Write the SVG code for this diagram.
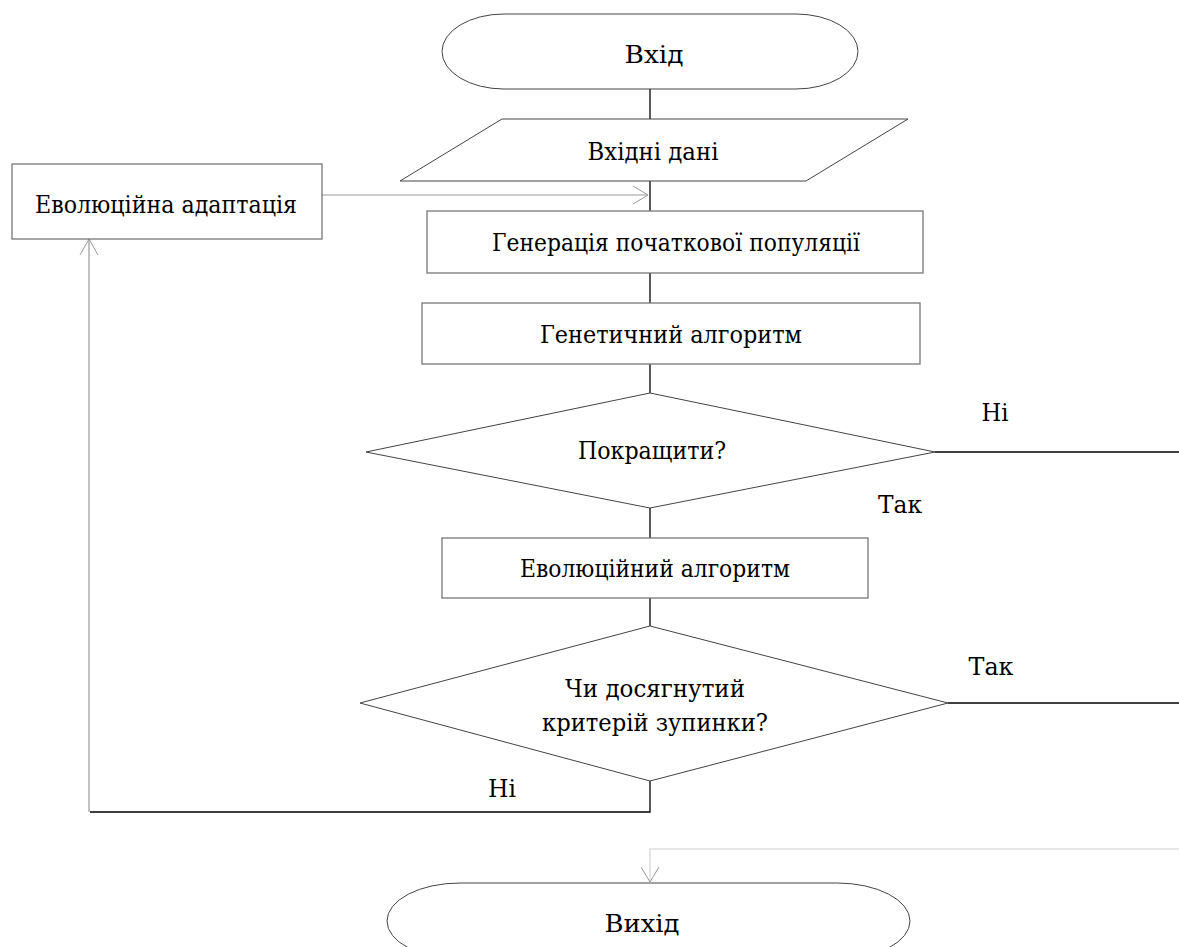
<svg xmlns="http://www.w3.org/2000/svg" width="1179" height="947" viewBox="0 0 1179 947">
<style>
text{font-family:"DejaVu Serif","Liberation Serif",serif;font-size:24.5px;fill:#000;text-anchor:middle}
.box{fill:#fff;stroke:#777;stroke-width:1.3}
.dia{fill:#fff;stroke:#444;stroke-width:1}
.term{fill:#fff;stroke:#444;stroke-width:1}
.c{fill:none;stroke:#000;stroke-width:1.3}
.g{fill:none;stroke:#999;stroke-width:1.2}
.lg{fill:none;stroke:#ddd;stroke-width:1.5}
.ah{fill:none;stroke:#999;stroke-width:1}
</style>
<rect width="1179" height="947" fill="#fff"/>
<g id="connectors">
<line class="c" x1="650" y1="89" x2="650" y2="119"/>
<line class="c" x1="650" y1="181" x2="650" y2="211"/>
<line class="g" x1="322" y1="195" x2="648" y2="195"/>
<polyline class="ah" points="633,186 648,195 633,204"/>
<line class="c" x1="650" y1="273" x2="650" y2="303"/>
<line class="c" x1="650" y1="364" x2="650" y2="393"/>
<line class="c" x1="935" y1="452" x2="1179" y2="452"/>
<line class="c" x1="650" y1="508" x2="650" y2="538"/>
<line class="c" x1="650" y1="598" x2="650" y2="626"/>
<line class="c" x1="948" y1="703" x2="1179" y2="703"/>
<polyline class="c" points="650,781 650,812 90,812"/>
<line class="g" x1="89" y1="812" x2="89" y2="239"/>
<polyline class="ah" points="80,255 89,239 98,255"/>
<polyline class="lg" points="1179,849 650,849 650,882"/>
<polyline class="ah" points="641,867 650,882 659,867"/>
</g>
<g id="start">
<rect class="term" x="442" y="14" width="416" height="75" rx="62" ry="37.5"/>
<text x="654" y="63" textLength="59" lengthAdjust="spacingAndGlyphs">Вхід</text>
</g>
<g id="input">
<polygon class="dia" points="502,119 908,119 806,181 400,181"/>
<text x="653" y="160" textLength="131" lengthAdjust="spacingAndGlyphs">Вхідні дані</text>
</g>
<g id="adapt">
<rect class="box" x="12" y="164" width="310" height="75"/>
<text x="166" y="213" textLength="262" lengthAdjust="spacingAndGlyphs">Еволюційна адаптація</text>
</g>
<g id="gen-pop">
<rect class="box" x="427" y="211" width="496" height="62"/>
<text x="676" y="251" textLength="368" lengthAdjust="spacingAndGlyphs">Генерація початкової популяції</text>
</g>
<g id="ga">
<rect class="box" x="422" y="303" width="498" height="61"/>
<text x="671" y="343" textLength="262" lengthAdjust="spacingAndGlyphs">Генетичний алгоритм</text>
</g>
<g id="improve">
<polygon class="dia" points="650,393 935,452 650,508 366,452"/>
<text x="652" y="459" textLength="148" lengthAdjust="spacingAndGlyphs">Покращити?</text>
</g>
<text x="995" y="421" textLength="27" lengthAdjust="spacingAndGlyphs">Ні</text>
<text x="900" y="513" textLength="44" lengthAdjust="spacingAndGlyphs">Так</text>
<g id="ea">
<rect class="box" x="442" y="538" width="426" height="60"/>
<text x="655" y="577" textLength="270" lengthAdjust="spacingAndGlyphs">Еволюційний алгоритм</text>
</g>
<g id="stop">
<polygon class="dia" points="650,626 948,703 650,781 360,703"/>
<text x="655" y="697" textLength="180" lengthAdjust="spacingAndGlyphs">Чи досягнутий</text>
<text x="655" y="731" textLength="226" lengthAdjust="spacingAndGlyphs">критерій зупинки?</text>
</g>
<text x="991" y="675" textLength="45" lengthAdjust="spacingAndGlyphs">Так</text>
<text x="502" y="797" textLength="28" lengthAdjust="spacingAndGlyphs">Ні</text>
<g id="end">
<rect class="term" x="387" y="883" width="523" height="76" rx="73" ry="38"/>
<text x="642" y="932" textLength="75" lengthAdjust="spacingAndGlyphs">Вихід</text>
</g>
</svg>
